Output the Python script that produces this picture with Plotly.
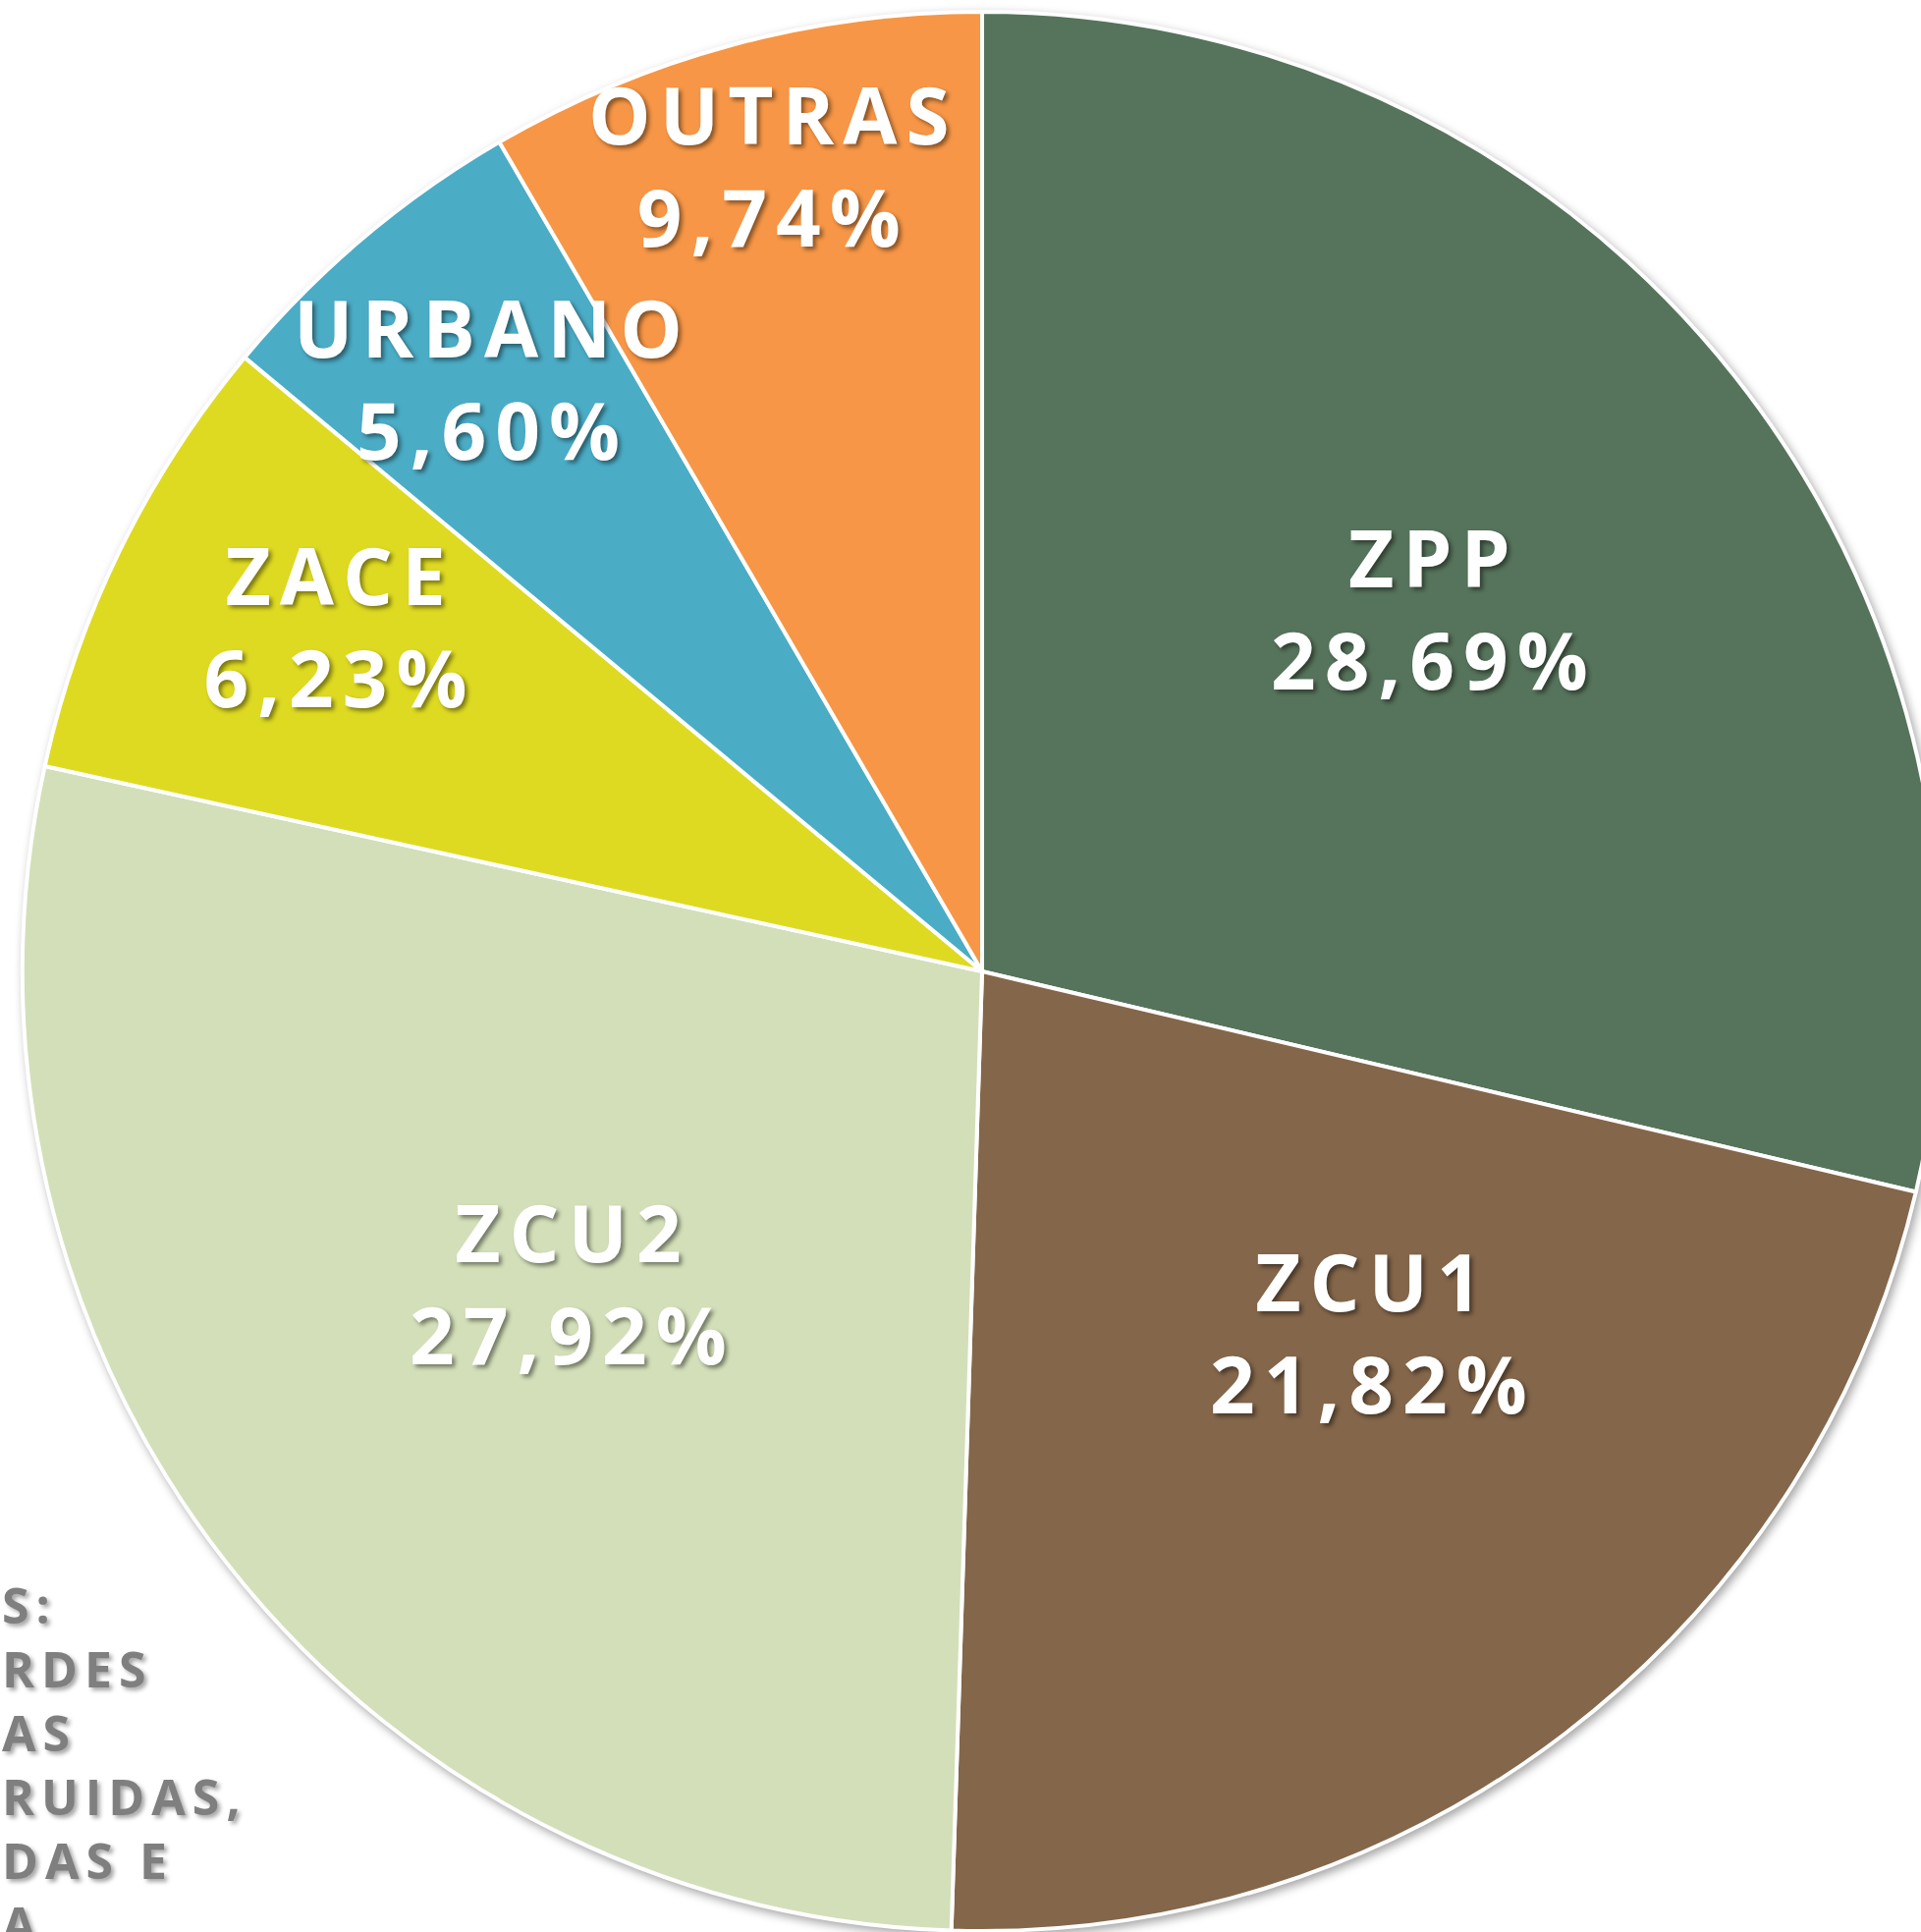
import math
import plotly.graph_objects as go

# Categories, printed percentages (labels) and slice sizes as drawn in the picture
labels = ["ZPP", "ZCU1", "ZCU2", "ZACE", "URBANO", "OUTRAS"]
printed_pct = [28.69, 21.82, 27.92, 6.23, 5.60, 9.74]
values = [28.69, 21.82, 27.92, 7.62, 5.56, 8.39]
colors = ["#56735B", "#84664A", "#D3DFB9", "#DEDA21", "#4BACC6", "#F79646"]
note_lines = ["S:", "RDES", "AS", "RUIDAS,", "DAS E", "A"]

# label placement style (fraction of radius, angular nudge in degrees)
label_radius = [0.60, 0.55, 0.54, 0.765, 0.805, 0.87]
label_turn = [0.8, 9.5, -1.1, -2.1, -0.4, -0.3]

W, H = 2000, 1978
R_PX = 977
dom_x = [(1000 - R_PX) / W, (1000 + R_PX) / W]
dom_y = [1 - (989 + R_PX) / H, 1 - (989 - R_PX) / H]

fig = go.Figure(go.Pie(
    labels=labels,
    values=values,
    sort=False,
    direction="clockwise",
    rotation=0,
    marker=dict(colors=colors, line=dict(color="white", width=4)),
    textinfo="none",
    domain=dict(x=dom_x, y=dom_y),
    hoverinfo="label",
    showlegend=False,
))

cx = sum(dom_x) / 2
cy = sum(dom_y) / 2
rx = R_PX / W
ry = R_PX / H
total = sum(values)
cum = 0.0
for lab, pct, v, rf, turn in zip(labels, printed_pct, values, label_radius, label_turn):
    mid = (cum + v / 2) / total * 360.0
    cum += v
    ang = math.radians(90 - mid + turn)
    fig.add_annotation(
        x=cx + rf * rx * math.cos(ang), y=cy + rf * ry * math.sin(ang),
        xref="paper", yref="paper", xanchor="center", yanchor="middle", xshift=5,
        text=f"{lab}<br>{pct:.2f}%".replace(".", ","), showarrow=False, align="center",
        font=dict(family="Open Sans", size=80, color="white", weight="bold",
                  shadow="3px 3px 4px rgba(0,0,0,0.45)"),
    )

fig.add_annotation(
    x=0, y=1 - 1598 / H, xref="paper", yref="paper",
    xanchor="left", yanchor="top", align="left",
    text="<br>".join(note_lines), showarrow=False,
    font=dict(family="Open Sans", size=50, color="#7F7F7F", weight="bold",
              shadow="3px 3px 4px rgba(0,0,0,0.35)"),
)

fig.update_layout(
    width=W, height=H,
    margin=dict(l=0, r=0, t=0, b=0),
    paper_bgcolor="white", plot_bgcolor="white",
)

css = (
    "html,body{margin:0;padding:0;overflow:hidden}"
    ".annotation .annotation-text{letter-spacing:9px}"
    ".annotation[data-index='6'] .annotation-text{letter-spacing:7px}"
    ".pielayer{filter:drop-shadow(3px 4px 5px rgba(0,0,0,0.35))}"
)
post = ("var s=document.createElement('style');s.textContent=%r;"
        "document.head.appendChild(s);" % css)

fig.write_html("out.html", config={"displayModeBar": False}, post_script=post)
